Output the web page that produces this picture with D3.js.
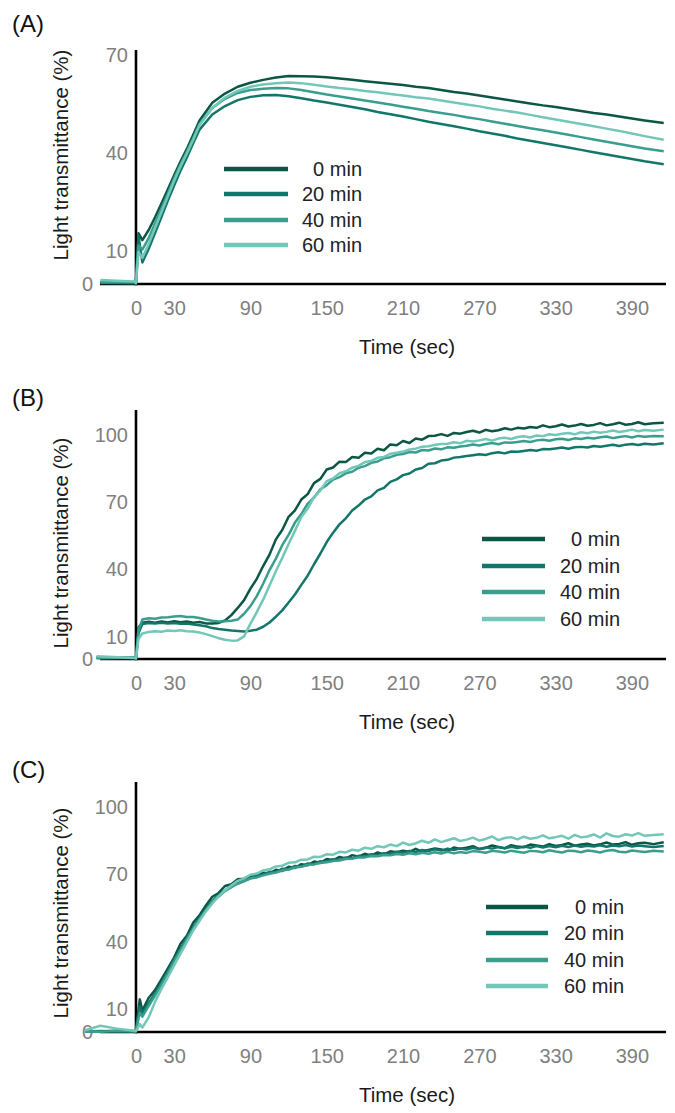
<!DOCTYPE html>
<html>
<head>
<meta charset="utf-8">
<script src="https://cdn.jsdelivr.net/npm/d3@7"></script>
<style>
  body { margin: 0; background: #fff; }
  svg { display: block; }
  text { font-family: "Liberation Sans", Arial, sans-serif; }
</style>
</head>
<body>
<svg id="chart" width="675" height="1113"></svg>
<script>
// ---- data ----
const seriesNames = ['0 min', '20 min', '40 min', '60 min'];
const seriesColors = ['#0b5645', '#12776a', '#3a9e8e', '#72c7b8'];
const xTicks = [0, 30, 90, 150, 210, 270, 330, 390];
const yTicksA = [0, 10, 40, 70];
const yTicksBC = [0, 10, 40, 70, 100];

// panel A
const timeA = [-28, -1, 0, 2, 5, 10, 15, 20, 25, 30, 35, 40, 45,
  50, 60, 70, 80, 90, 100, 110, 120, 130, 140, 150, 160, 170, 180, 190, 200, 210, 220, 230, 240,
  250, 260, 270, 280, 290, 300, 310, 320, 330, 340, 350, 360, 370, 380, 390, 400, 415];
const a0 = [0.6, 0.4, 0.8, 15.5, 13.4, 16.5, 20.4, 24.6, 28.9, 33.2, 37.4, 41.3, 45.6,
  50.0, 55.4, 58.2, 60.3, 61.5, 62.4, 63.1, 63.6, 63.5, 63.4,
  63.2, 62.8, 62.4, 62.0, 61.6, 61.2, 60.8, 60.3, 59.9, 59.3,
  58.7, 58.2, 57.6, 57.0, 56.4, 55.8, 55.2, 54.6, 54.1, 53.5,
  52.9, 52.3, 51.8, 51.2, 50.6, 50.0, 49.2];
const a20 = [0.3, 0.2, 1.0, 14.8, 6.6, 10.8, 15.6, 20.5, 25.4, 30.1, 34.6, 38.7, 43.0,
  47.2, 51.8, 54.4, 56.2, 57.2, 57.7, 57.8, 57.4, 56.8, 56.1,
  55.5, 54.8, 54.1, 53.4, 52.6, 51.9, 51.2, 50.4, 49.6, 48.9,
  48.2, 47.5, 46.7, 46.0, 45.3, 44.5, 43.8, 43.1, 42.4, 41.7,
  41.0, 40.3, 39.6, 38.9, 38.2, 37.5, 36.6];
const a40 = [0.5, 0.6, 0.9, 11.8, 10.5, 14.0, 18.6, 23.1, 27.6, 32.3, 36.6, 40.5, 44.6,
  49.0, 53.8, 56.6, 58.4, 59.3, 59.7, 59.9, 59.8, 59.3, 58.6,
  57.9, 57.3, 56.7, 56.1, 55.5, 54.9, 54.2, 53.6, 52.9, 52.3,
  51.7, 51.0, 50.4, 49.7, 49.0, 48.3, 47.6, 47.0, 46.3, 45.6,
  44.9, 44.2, 43.5, 42.8, 42.1, 41.4, 40.6];
const a60 = [1.2, 0.8, 0.2, 9.8, 8.0, 12.2, 17.1, 21.9, 26.7, 31.5, 35.9, 39.9, 44.1,
  48.6, 53.8, 57.0, 59.0, 60.3, 61.0, 61.4, 61.6, 61.4, 60.9,
  60.4, 59.9, 59.5, 59.0, 58.6, 58.1, 57.6, 57.1, 56.7, 56.1,
  55.5, 54.9, 54.3, 53.6, 53.0, 52.4, 51.7, 51.0, 50.3, 49.6,
  48.9, 48.2, 47.5, 46.8, 46.0, 45.2, 44.1];

// panel B
const timeB = [-31, -1, 0, 2,
  5, 10, 15, 20, 25, 30, 35, 40, 45, 50, 55, 60, 65, 70, 75, 80, 85, 90, 95, 100,
  105, 110, 115, 120, 125, 130, 135, 140, 145, 150, 155, 160, 165, 170, 175, 180, 185, 190, 195, 200,
  205, 210, 215, 220, 225, 230, 235, 240, 245, 250, 255, 260, 265, 270, 275, 280, 285, 290, 295, 300,
  305, 310, 315, 320, 325, 330, 335, 340, 345, 350, 355, 360, 365, 370, 375, 380, 385, 390, 395, 400,
  407, 415];
const b0 = [0.8, 0.5, 0.4, 14.2,
  16.2, 16.6, 16.2, 16.8, 16.3, 16.9, 16.4, 16.7, 16.2, 16.5,
  15.9, 15.8, 16.1, 17.2, 19.6, 22.8, 26.3, 31.4, 35.8, 41.5,
  46.6, 53.4, 57.6, 63.5, 66.4, 71.2, 73.6, 78.5, 80.4, 84.6,
  85.5, 88.1, 87.9, 90.2, 89.8, 92.1, 91.7, 93.9, 93.2, 95.8,
  95.4, 97.3, 96.4, 98.4, 97.9, 99.5, 99.7, 100.4, 99.6, 100.9,
  100.6, 101.3, 101.9, 101.1, 102.3, 101.7, 102.1, 103.0, 102.4, 103.2,
  102.9, 103.6, 103.2, 104.3, 103.5, 103.9, 104.7, 103.8, 104.2, 104.9,
  104.1, 104.5, 105.3, 104.3, 104.8, 105.5, 104.6, 104.9, 105.7, 104.8,
  105.2, 105.5];
const b20 = [0.4, 0.6, 0.2, 11.5,
  15.6, 16.1, 15.8, 16.2, 15.9, 16.1, 15.7, 15.8, 15.4, 15.1,
  14.6, 13.8, 13.4, 13.1, 12.7, 12.5, 12.3, 12.6, 13.1, 14.4,
  16.3, 18.9, 21.7, 25.2, 28.8, 33.1, 37.2, 42.3, 47.1, 52.2,
  56.4, 60.1, 62.8, 66.3, 68.5, 71.2, 72.6, 75.3, 76.4, 79.1,
  80.2, 82.1, 82.8, 84.6, 85.3, 87.2, 87.4, 88.6, 88.9, 89.9,
  90.2, 90.6, 91.0, 91.4, 91.1, 91.9, 92.3, 91.8, 92.6, 92.5,
  92.9, 93.3, 93.0, 93.7, 93.6, 94.0, 94.4, 93.9, 94.5, 94.7,
  94.4, 95.1, 94.8, 95.2, 95.6, 95.1, 95.7, 96.0, 95.5, 96.1,
  95.8, 96.3];
const b40 = [0.3, 0.7, 0.5, 13.0,
  17.6, 18.2, 18.0, 18.5, 18.6, 19.0, 19.2, 18.8, 18.7, 18.3,
  17.6, 17.1, 16.7, 16.8, 17.1, 17.6, 20.2, 23.6, 28.1, 33.6,
  39.7, 44.8, 50.8, 55.4, 60.9, 64.7, 69.3, 72.1, 75.8, 77.6,
  80.1, 81.2, 82.9, 83.6, 85.4, 86.1, 87.6, 88.2, 89.6, 90.1,
  91.2, 91.5, 92.4, 92.2, 93.3, 93.1, 94.0, 93.6, 94.5, 94.3,
  94.9, 95.2, 95.8, 95.3, 96.0, 96.4, 95.9, 96.7, 96.5, 96.9,
  97.3, 96.9, 97.6, 97.9, 97.4, 98.1, 98.3, 97.8, 98.5, 98.2,
  98.8, 98.4, 99.0, 99.3, 98.6, 99.1, 99.5, 98.9, 99.6, 99.2,
  99.5, 99.4];
const b60 = [1.2, 0.4, 0.2, 9.0,
  11.4, 12.1, 12.4, 12.2, 12.7, 12.5, 12.8, 12.4, 12.3, 11.8,
  11.1, 10.2, 9.3, 8.6, 8.2, 8.3, 10.1, 15.8, 20.9, 26.5,
  32.8, 39.2, 45.1, 51.3, 57.2, 63.4, 67.1, 72.3, 75.2, 79.4,
  80.6, 82.9, 83.8, 85.4, 86.2, 87.9, 88.4, 89.8, 90.2, 91.6,
  92.1, 92.6, 93.5, 93.9, 94.8, 95.0, 95.6, 96.0, 96.1, 96.8,
  96.3, 97.4, 97.1, 97.6, 98.2, 97.5, 98.4, 98.8, 98.2, 99.1,
  99.4, 98.9, 99.8, 99.5, 100.3, 100.0, 100.6, 100.9, 100.3, 101.2,
  100.8, 101.5, 101.0, 101.4, 102.0, 101.3, 101.8, 102.4, 101.7, 102.2,
  101.9, 102.4];

// panel C
const timeC = [-40, -28, -15, -1, 0, 3,
  5, 10, 15, 20, 25, 30, 35, 40, 45, 50, 55, 60, 65, 70, 75, 80, 85, 90, 95, 100,
  105, 110, 115, 120, 125, 130, 135, 140, 145, 150, 155, 160, 165, 170, 175, 180, 185, 190, 195, 200,
  205, 210, 215, 220, 225, 230, 235, 240, 245, 250, 255, 260, 265, 270, 275, 280, 285, 290, 295, 300,
  305, 310, 315, 320, 325, 330, 335, 340, 345, 350, 355, 360, 365, 370, 375, 380, 385, 390, 395, 400,
  407, 415];
const c0 = [0.4, 0.2, 0.6, 0.3, 1.0, 14.5,
  9.5, 15.2, 18.6, 23.4, 28.2, 33.1, 39.2, 42.8, 48.6, 51.9,
  56.2, 60.1, 61.8, 64.9, 65.7, 67.9, 68.1, 69.6, 69.2, 70.8,
  70.4, 72.1, 71.6, 73.4, 72.9, 74.6, 74.1, 75.8, 75.2, 76.9,
  76.3, 77.8, 77.1, 78.6, 77.9, 79.2, 78.4, 79.8, 78.9, 80.3,
  79.9, 80.6, 80.1, 81.4, 80.2, 80.9, 81.6, 81.1, 80.5, 82.0,
  81.4, 81.9, 82.6, 81.3, 81.8, 82.9, 82.2, 81.7, 83.0, 82.4,
  82.1, 83.3, 82.9, 82.4, 83.5, 82.7, 83.1, 83.9, 82.8, 83.3,
  83.7, 82.9, 83.4, 84.2, 83.3, 83.6, 84.4, 83.2, 83.9, 84.1,
  83.5, 84.3];
const c20 = [0.2, 0.5, 0.3, 0.4, 0.6, 11.2,
  8.4, 12.8, 17.1, 21.9, 26.8, 32.2, 37.1, 42.0, 46.4, 50.8,
  54.7, 58.2, 61.1, 62.8, 65.2, 66.3, 67.9, 68.4, 69.8, 69.9,
  71.2, 71.0, 72.6, 72.3, 73.8, 73.5, 74.9, 74.6, 75.9, 75.7,
  76.8, 76.5, 77.6, 77.2, 78.3, 77.9, 79.0, 78.6, 79.5, 79.1,
  80.1, 79.6, 80.5, 80.0, 80.9, 80.4, 81.2, 80.6, 81.5, 80.9,
  81.6, 81.1, 81.9, 81.3, 82.0, 81.5, 82.2, 81.6, 82.3, 81.8,
  82.4, 81.9, 82.6, 82.0, 82.7, 82.1, 82.8, 82.2, 82.9, 82.3,
  82.8, 82.4, 83.0, 82.3, 82.9, 82.5, 83.1, 82.4, 82.9, 82.6,
  82.2, 82.7];
const c40 = [0.3, 0.1, 0.4, 0.2, 0.5, 8.6,
  6.8, 11.6, 16.2, 21.1, 26.0, 31.4, 36.3, 41.2, 45.9, 50.1,
  54.1, 57.8, 60.2, 62.6, 64.4, 65.9, 67.0, 68.2, 68.7, 69.6,
  70.3, 70.9, 71.8, 72.2, 73.1, 73.4, 74.2, 74.5, 75.1, 75.4,
  76.0, 76.2, 76.9, 77.0, 77.6, 77.6, 78.2, 78.1, 78.7, 78.5,
  79.1, 78.8, 79.4, 79.0, 79.7, 79.2, 79.9, 79.3, 80.1, 79.4,
  80.0, 79.6, 80.4, 80.1, 79.7, 80.5, 80.2, 79.8, 80.6, 80.1,
  79.7, 80.5, 80.3, 79.9, 80.8, 80.2, 79.8, 80.6, 80.4, 79.9,
  80.7, 80.3, 79.8, 80.6, 80.9, 80.1, 79.9, 80.7, 80.3, 80.0,
  80.6, 80.2];
const c60 = [0.8, 2.8, 1.5, 0.6, 0.3, 3.5,
  2.0, 6.5, 13.4, 19.2, 24.3, 29.6, 34.8, 39.9, 45.1, 49.4,
  53.6, 57.1, 60.4, 62.9, 65.1, 67.2, 68.3, 69.9, 70.4, 71.8,
  72.3, 73.6, 73.9, 75.2, 75.4, 76.6, 76.7, 77.9, 77.8, 79.0,
  78.8, 80.1, 79.8, 81.0, 80.6, 81.9, 81.4, 82.6, 82.1, 83.3,
  82.6, 84.2, 83.1, 83.9, 85.0, 84.1, 85.6, 84.4, 85.2, 86.1,
  84.9, 85.5, 86.4, 85.1, 85.8, 86.9, 85.3, 86.2, 86.6, 85.6,
  86.8, 85.9, 86.3, 87.4, 86.1, 86.6, 87.2, 85.9, 87.6, 86.5,
  86.9, 87.8, 86.4, 88.3, 87.1, 86.8, 87.9, 87.3, 88.4, 87.2,
  87.6, 87.9];

// ---- layout ----
const panels = [
  { letter: '(A)', time: timeA, series: [a0, a20, a40, a60], yDomain: [0, 70], yRange: [284, 55],
    yTop: 50, yTicks: yTicksA, letterY: 23, titleY: 155,
    legend: { x1: 224, x2: 288, tx: 362, rows: [169, 194, 220, 245] } },
  { letter: '(B)', time: timeB, series: [b0, b20, b40, b60], yDomain: [0, 100], yRange: [659, 435],
    yTop: 410, yTicks: yTicksBC, letterY: 397, titleY: 543,
    legend: { x1: 482, x2: 545, tx: 620, rows: [539, 566, 592, 619] } },
  { letter: '(C)', time: timeC, series: [c0, c20, c40, c60], yDomain: [0, 100], yRange: [1032, 807],
    yTop: 782, yTicks: yTicksBC, letterY: 769, titleY: 913,
    legend: { x1: 486, x2: 548, tx: 624, rows: [907, 933, 960, 986] } }
];

const svg = d3.select('#chart');
const x = d3.scaleLinear().domain([-28.3, 416]).range([100, 665]);
const tickGray = '#7f7f7f';

panels.forEach(p => {
  const y = d3.scaleLinear().domain(p.yDomain).range(p.yRange);
  const g = svg.append('g');
  const y0 = y(0);

  // axis lines
  g.append('line')
    .attr('x1', 100).attr('x2', 666)
    .attr('y1', y0).attr('y2', y0)
    .attr('stroke', '#000').attr('stroke-width', 2.6);
  g.append('line')
    .attr('x1', x(0)).attr('x2', x(0))
    .attr('y1', y0 + 1.3).attr('y2', p.yTop)
    .attr('stroke', '#000').attr('stroke-width', 2.6);

  // x tick labels
  const xa = g.append('g')
    .attr('transform', `translate(0,${y0})`)
    .call(d3.axisBottom(x).tickValues(xTicks).tickSize(0).tickPadding(17).tickFormat(d3.format('d')));
  xa.select('.domain').remove();
  xa.selectAll('text').attr('font-size', 20).attr('fill', tickGray)
    .attr('font-family', '"Liberation Sans", Arial, sans-serif');

  // y tick labels
  const ya = g.append('g')
    .attr('transform', 'translate(128,0)')
    .call(d3.axisLeft(y).tickValues(p.yTicks).tickSize(0).tickPadding(0).tickFormat(d3.format('d')));
  ya.select('.domain').remove();
  ya.selectAll('text').attr('font-size', 20).attr('fill', tickGray)
    .attr('font-family', '"Liberation Sans", Arial, sans-serif');
  ya.selectAll('.tick').filter(d => d === 0).select('text').attr('x', -35);

  // data lines
  const line = d3.line()
    .x((d, i) => x(p.time[i]))
    .y(d => y(d));
  p.series.forEach((s, k) => {
    g.append('path')
      .datum(s)
      .attr('d', line)
      .attr('fill', 'none')
      .attr('stroke', seriesColors[k])
      .attr('stroke-width', 2.5)
      .attr('stroke-linejoin', 'round');
  });

  // legend
  const lg = g.append('g');
  seriesNames.forEach((name, k) => {
    const ry = p.legend.rows[k];
    lg.append('line')
      .attr('x1', p.legend.x1).attr('x2', p.legend.x2)
      .attr('y1', ry).attr('y2', ry)
      .attr('stroke', seriesColors[k]).attr('stroke-width', 4.5);
    lg.append('text')
      .attr('x', p.legend.tx).attr('y', ry).attr('dy', '0.36em')
      .attr('text-anchor', 'end')
      .attr('font-size', 20).attr('fill', '#222')
      .text(name);
  });

  // titles
  g.append('text')
    .attr('transform', `translate(61,${p.titleY}) rotate(-90)`)
    .attr('text-anchor', 'middle').attr('dy', '0.36em')
    .attr('font-size', 20.5).attr('fill', '#1a1a1a')
    .text('Light transmittance (%)');
  g.append('text')
    .attr('x', 407).attr('y', y0 + 63).attr('dy', '0.36em')
    .attr('text-anchor', 'middle')
    .attr('font-size', 20.5).attr('fill', '#1a1a1a')
    .text('Time (sec)');
  g.append('text')
    .attr('x', 12).attr('y', p.letterY).attr('dy', '0.36em')
    .attr('font-size', 24).attr('fill', '#111')
    .text(p.letter);
});
</script>
</body>
</html>
